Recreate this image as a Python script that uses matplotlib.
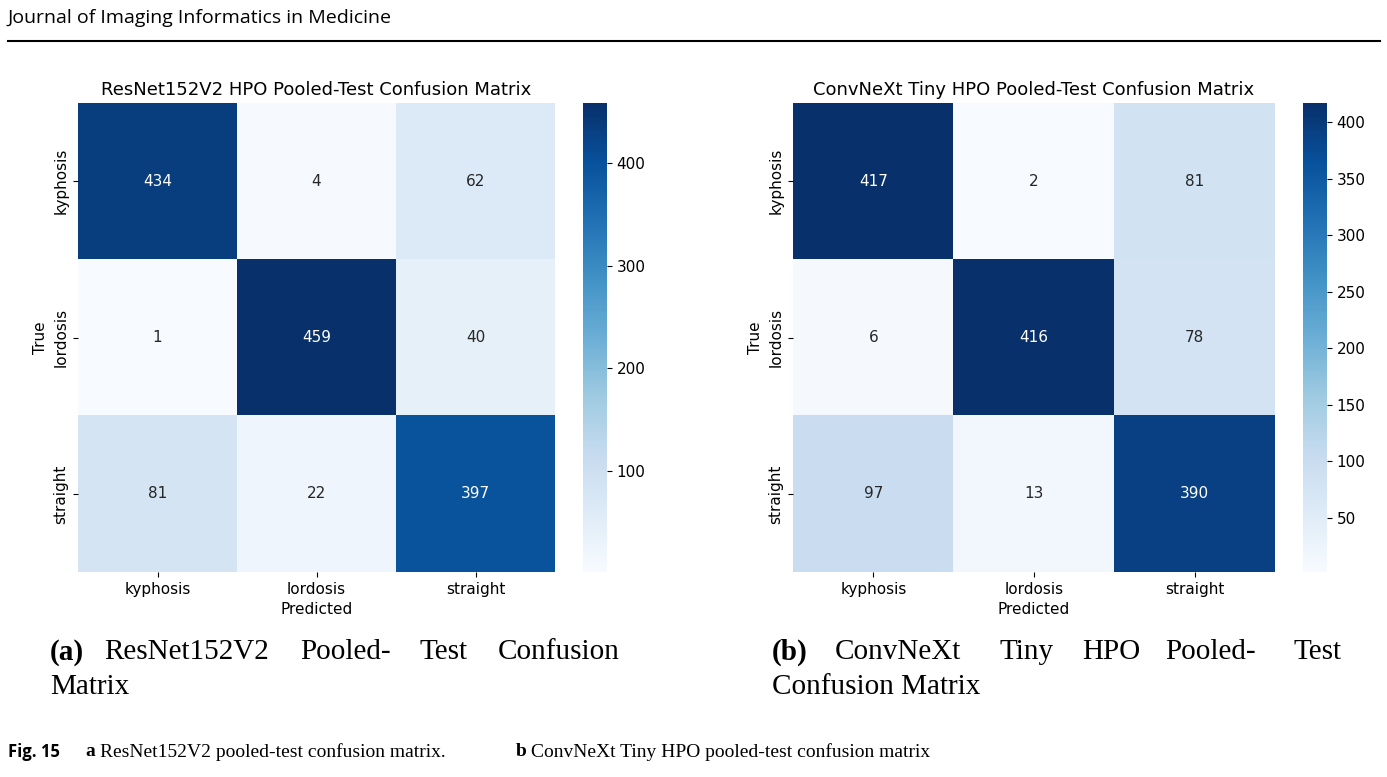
import matplotlib
matplotlib.use("Agg")
import matplotlib.pyplot as plt
import numpy as np

classes = ["kyphosis", "lordosis", "straight"]
cm_resnet = [[434, 4, 62], [1, 459, 40], [81, 22, 397]]
cm_convnext = [[417, 2, 81], [6, 416, 78], [97, 13, 390]]
ticks_resnet = [100, 200, 300, 400]
ticks_convnext = [50, 100, 150, 200, 250, 300, 350, 400]

W, H = 1387, 777
fig = plt.figure(figsize=(W/100, H/100), dpi=100)

def fx(x): return x / W
def fy(y): return 1 - y / H

def draw(cm, title, ticks, ax_box, cb_box):
    cm = np.array(cm)
    ax = fig.add_axes(ax_box)
    im = ax.imshow(cm, cmap="Blues", aspect="auto", vmin=cm.min(), vmax=cm.max())
    mid = (cm.min() + cm.max()) / 2
    for i in range(3):
        for j in range(3):
            ax.text(j, i, str(cm[i, j]), ha="center", va="center", fontsize=11,
                    color="white" if cm[i, j] > mid else "#262626")
    ax.set_xticks(range(3), classes, fontsize=11)
    ax.set_yticks(range(3), classes, fontsize=11, rotation=90, va="center")
    ax.set_xlabel("Predicted", fontsize=11)
    ax.set_ylabel("True", fontsize=11)
    ax.set_title(title, fontsize=13)
    for s in ax.spines.values():
        s.set_visible(False)
    cax = fig.add_axes(cb_box)
    cb = fig.colorbar(im, cax=cax, ticks=ticks)
    cb.outline.set_visible(False)
    cb.ax.tick_params(labelsize=11)

draw(cm_resnet, "ResNet152V2 HPO Pooled-Test Confusion Matrix", ticks_resnet,
     [fx(78), fy(572), fx(477), 469/H], [fx(583), fy(572), fx(24), 469/H])
draw(cm_convnext, "ConvNeXt Tiny HPO Pooled-Test Confusion Matrix", ticks_convnext,
     [fx(793), fy(572), fx(482), 469/H], [fx(1303), fy(572), fx(24), 469/H])

# header
fig.text(fx(8), fy(18), "Journal of Imaging Informatics in Medicine", fontsize=14,
         family="Open Sans", va="center")
fig.add_artist(plt.Line2D([fx(8), fx(1380)], [fy(41), fy(41)], color="black", lw=1.5))

serif = "Liberation Serif"
def words(items, y, size=21):
    for x, t, bold in items:
        fig.text(fx(x), fy(y), t, fontsize=size, family=serif, va="center",
                 weight="bold" if bold else "normal")

words([(50, "(a)", True), (104, "ResNet152V2", False), (300, "Pooled-", False),
       (420, "Test", False), (498, "Confusion", False)], 652)
words([(50, "Matrix", False)], 687)
words([(772, "(b)", True), (835, "ConvNeXt", False), (1000, "Tiny", False),
       (1082, "HPO", False), (1165, "Pooled-", False), (1293, "Test", False)], 652)
words([(772, "Confusion Matrix", False)], 687)

fig.text(fx(8), fy(752), "Fig. 15", fontsize=12, family="Open Sans", weight="bold", va="center")
fig.text(fx(85), fy(752), "a", fontsize=14, family=serif, weight="bold", va="center")
fig.text(fx(100), fy(752), "ResNet152V2 pooled-test confusion matrix.", fontsize=14, family=serif, va="center")
fig.text(fx(516), fy(752), "b", fontsize=14, family=serif, weight="bold", va="center")
fig.text(fx(531), fy(752), "ConvNeXt Tiny HPO pooled-test confusion matrix", fontsize=14, family=serif, va="center")

fig.savefig("out.png", dpi=100)
